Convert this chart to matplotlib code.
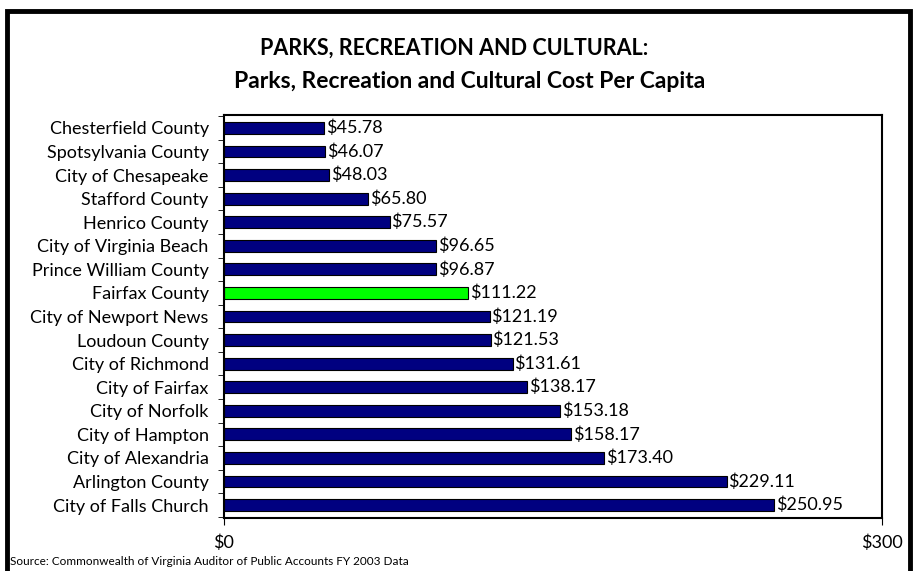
import matplotlib.pyplot as plt
from matplotlib.patches import Rectangle

plt.rcParams['font.family'] = ['Lato', 'DejaVu Sans']

places = ["Chesterfield County", "Spotsylvania County", "City of Chesapeake",
          "Stafford County", "Henrico County", "City of Virginia Beach",
          "Prince William County", "Fairfax County", "City of Newport News",
          "Loudoun County", "City of Richmond", "City of Fairfax",
          "City of Norfolk", "City of Hampton", "City of Alexandria",
          "Arlington County", "City of Falls Church"]
cost = [45.78, 46.07, 48.03, 65.80, 75.57, 96.65, 96.87, 111.22, 121.19,
        121.53, 131.61, 138.17, 153.18, 158.17, 173.40, 229.11, 250.95]
highlight = "Fairfax County"

colors = ['#00ff00' if p == highlight else '#000080' for p in places]

fig = plt.figure(figsize=(9.14, 5.71), dpi=100)
ax = fig.add_axes([0.245, 0.0928, 0.72, 0.7058])

ypos = list(range(len(places)))
ax.barh(ypos, cost, height=0.5, color=colors, edgecolor='black', linewidth=0.8)
for y, v in zip(ypos, cost):
    ax.text(v + 0.8, y, "${:.2f}".format(v), va='center', ha='left', fontsize=13, color='black')

ax.set_xlim(0, 300)
ax.set_ylim(len(places) - 0.45, -0.55)
ax.set_xticks([0, 300])
ax.set_xticklabels(["$0", "$300"], fontsize=13)
ax.tick_params(axis='x', direction='out', length=5, pad=7)

# labels at bar centres, ticks between bars
ax.set_yticks(ypos)
ax.set_yticklabels(places, fontsize=13)
ax.tick_params(axis='y', which='major', length=0, pad=11)
ax.set_yticks([i + 0.5 for i in range(-1, len(places))], minor=True)
ax.tick_params(axis='y', which='minor', direction='out', length=4)
for s in ax.spines.values():
    s.set_linewidth(1.5)

fig.text(0.497, 0.915, "PARKS, RECREATION AND CULTURAL:", ha='center', va='center',
         fontsize=15.5, fontweight='bold')
fig.text(0.514, 0.858, "Parks, Recreation and Cultural Cost Per Capita", ha='center', va='center',
         fontsize=16.5, fontweight='bold')
fig.text(0.011, 0.016, "Source: Commonwealth of Virginia Auditor of Public Accounts FY 2003 Data",
         ha='left', va='center', fontsize=8.5)

fig.patches.append(Rectangle((0.0075, -0.05), 0.988, 1.03, transform=fig.transFigure,
                             fill=False, edgecolor='black', linewidth=3.5))

fig.savefig('out.png', dpi=100)
